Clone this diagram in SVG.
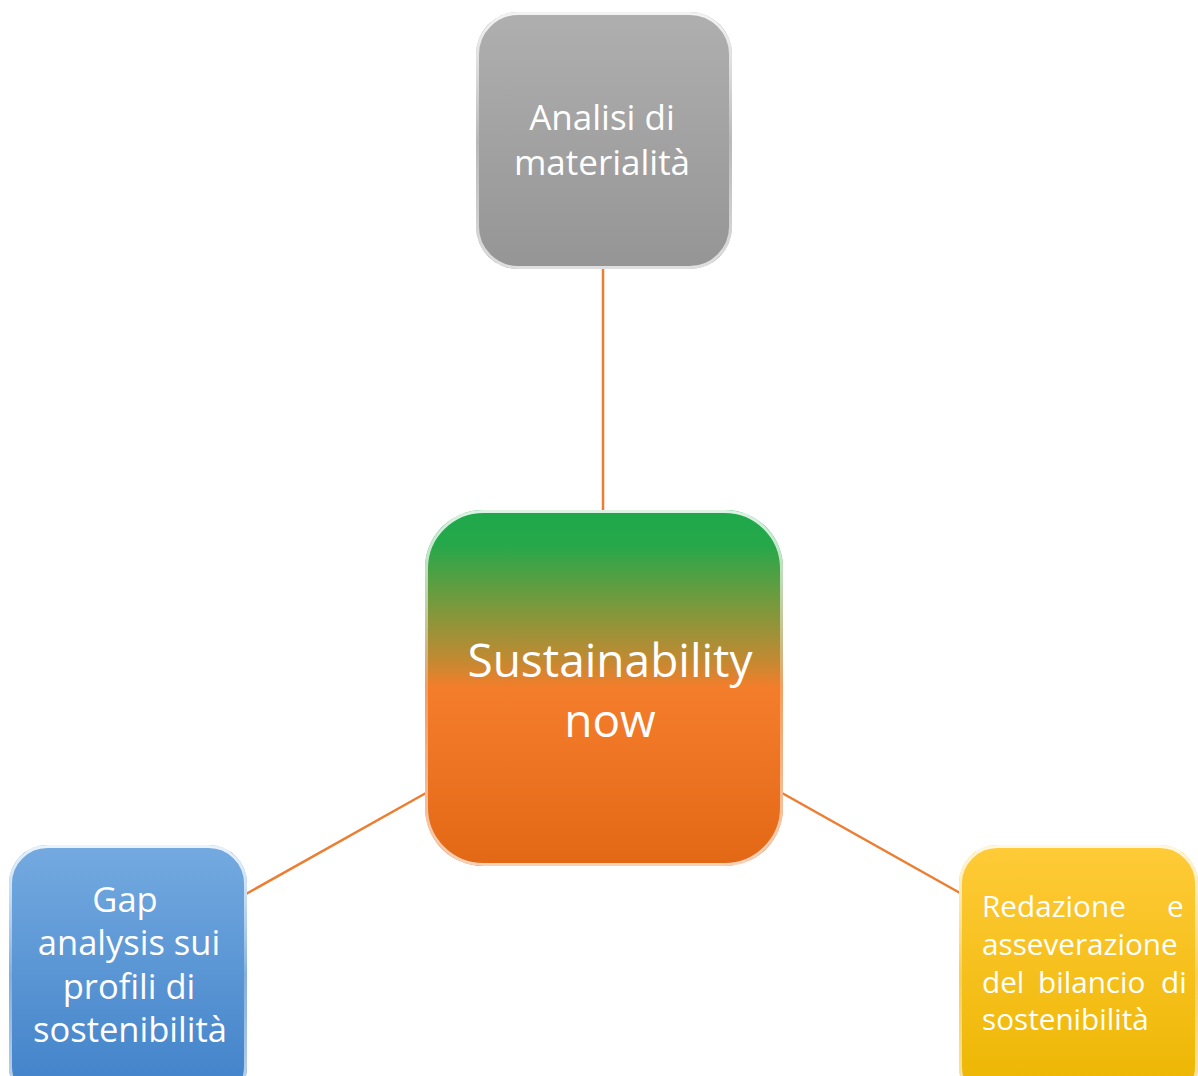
<svg xmlns="http://www.w3.org/2000/svg" width="1198" height="1076" viewBox="0 0 1198 1076">
<defs>
<linearGradient id="gGray" x1="0" y1="0" x2="0" y2="1"><stop offset="0" stop-color="#afafaf"/><stop offset="1" stop-color="#959595"/></linearGradient>
<linearGradient id="gCenter" x1="0" y1="0" x2="0" y2="1"><stop offset="0" stop-color="#1ea84a"/><stop offset="0.1" stop-color="#26a84a"/><stop offset="0.28" stop-color="#7f983c"/><stop offset="0.42" stop-color="#c18a32"/><stop offset="0.5" stop-color="#f47d2b"/><stop offset="1" stop-color="#e36816"/></linearGradient>
<linearGradient id="gBlue" x1="0" y1="0" x2="0" y2="1"><stop offset="0" stop-color="#74aae0"/><stop offset="1" stop-color="#3f80c8"/></linearGradient>
<linearGradient id="gYellow" x1="0" y1="0" x2="0" y2="1"><stop offset="0" stop-color="#ffcb38"/><stop offset="1" stop-color="#ecb500"/></linearGradient>
<linearGradient id="gRim" x1="0" y1="0" x2="0" y2="1"><stop offset="0" stop-color="#ffffff" stop-opacity="0.85"/><stop offset="0.5" stop-color="#ffffff" stop-opacity="0.25"/><stop offset="1" stop-color="#ffffff" stop-opacity="0.7"/></linearGradient>
</defs>
<style>
.conn{stroke:#ed7d31;stroke-width:2.5;fill:none}
.rim{fill:none;stroke:url(#gRim);stroke-width:3}
.t{font-family:"Open Sans","Noto Sans",sans-serif;fill:#ffffff}
</style>
<rect width="1198" height="1076" fill="#ffffff"/>
<g id="connectors">
<line class="conn" x1="603" y1="269" x2="603" y2="511"/>
<line class="conn" x1="426" y1="793" x2="246" y2="894"/>
<line class="conn" x1="782" y1="793" x2="960" y2="893"/>
</g>
<g id="node-analisi">
<rect x="476" y="12" width="256" height="257" rx="42" fill="url(#gGray)"/>
<rect class="rim" x="477.5" y="13.5" width="253" height="254" rx="41"/>
<text class="t" font-size="35" text-anchor="middle"><tspan x="602" y="130">Analisi di</tspan><tspan x="602" y="175">materialità</tspan></text>
</g>
<g id="node-center">
<rect x="425" y="510" width="358" height="356" rx="58" fill="url(#gCenter)"/>
<rect class="rim" x="426.5" y="511.5" width="355" height="353" rx="57"/>
<text class="t" font-size="46" text-anchor="middle"><tspan x="610" y="677">Sustainability</tspan><tspan x="610" y="737">now</tspan></text>
</g>
<g id="node-gap">
<rect x="9" y="845" width="238" height="260" rx="38" fill="url(#gBlue)"/>
<rect class="rim" x="10.5" y="846.5" width="235" height="257" rx="37"/>
<text class="t" font-size="34.5" text-anchor="middle"><tspan x="125" y="912">Gap</tspan><tspan x="129" y="955">analysis sui</tspan><tspan x="129" y="999">profili di</tspan><tspan x="130" y="1042">sostenibilità</tspan></text>
</g>
<g id="node-redazione">
<rect x="959" y="845" width="239" height="260" rx="38" fill="url(#gYellow)"/>
<rect class="rim" x="960.5" y="846.5" width="236" height="257" rx="37"/>
<text class="t" font-size="29.7"><tspan x="982" y="917">Redazione</tspan><tspan x="1167" y="917">e</tspan><tspan x="982" y="955">asseverazione</tspan><tspan x="982" y="993">del</tspan><tspan x="1038" y="993">bilancio</tspan><tspan x="1161" y="993">di</tspan><tspan x="982" y="1030">sostenibilità</tspan></text>
</g>
</svg>
